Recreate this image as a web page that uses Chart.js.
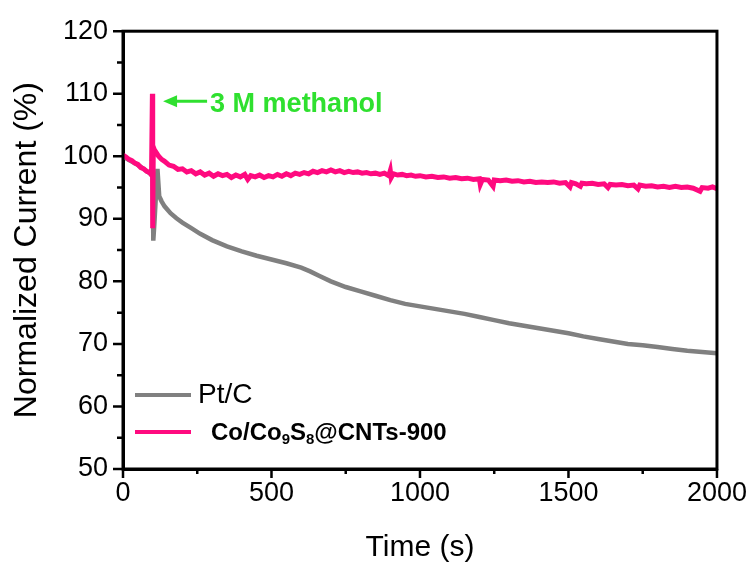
<!DOCTYPE html>
<html>
<head>
<meta charset="utf-8">
<script src="https://cdn.jsdelivr.net/npm/chart.js@4.4.1/dist/chart.umd.min.js"></script>
<style>
  body { margin: 0; background: #fff; }
</style>
</head>
<body>
<canvas id="plot" width="755" height="563"></canvas>
<script>
// chronoamperometry, methanol injected at ~100 s
const ptcTime = [0, 20, 40, 60, 80, 95, 100, 102, 106, 110, 116, 122, 130, 140, 160, 180, 200, 230, 260, 300,
  350, 400, 450, 500, 550, 600, 630, 660, 700, 750, 800, 850, 900, 950, 1000, 1050, 1100, 1150, 1200,
  1250, 1300, 1350, 1400, 1450, 1500, 1550, 1600, 1650, 1700, 1750, 1800, 1850, 1900, 1950, 2000];
const ptcCurrent = [100.0, 99.4, 98.9, 98.3, 97.6, 97.1, 96.8, 86.5, 89.5, 93.0, 98.0, 93.6, 92.8, 92.0, 90.9, 90.1, 89.4, 88.5, 87.6, 86.6,
  85.6, 84.8, 84.1, 83.5, 82.9, 82.2, 81.6, 80.9, 80.0, 79.1, 78.4, 77.7, 77.0, 76.4, 76.0, 75.6, 75.2, 74.8, 74.3,
  73.8, 73.3, 72.9, 72.5, 72.1, 71.7, 71.2, 70.8, 70.4, 70.0, 69.8, 69.5, 69.2, 68.9, 68.7, 68.5];

const cnTime = [0, 10, 20, 30, 40, 50, 60, 70, 80, 90, 96, 99, 100, 102, 106, 112, 120, 130, 140, 155,
  170, 185, 200, 215, 230, 245, 260, 275, 290, 305, 320, 335, 350, 365, 380, 395, 410, 420, 430, 445,
  460, 475, 490, 505, 520, 535, 550, 565, 580, 595, 610, 625, 640, 655, 670, 685, 700, 715, 730, 745,
  760, 775, 790, 805, 820, 835, 850, 865, 880, 895, 900, 903, 910, 925, 940, 955, 970, 985, 1000, 1020,
  1040, 1060, 1080, 1100, 1120, 1140, 1160, 1180, 1200, 1203, 1210, 1230, 1246, 1250, 1270, 1290, 1310, 1330, 1350, 1370,
  1390, 1410, 1430, 1450, 1470, 1490, 1505, 1510, 1525, 1540, 1545, 1560, 1580, 1600, 1620, 1633, 1640, 1660, 1680, 1700,
  1720, 1734, 1740, 1760, 1780, 1800, 1820, 1840, 1860, 1880, 1900, 1920, 1943, 1950, 1970, 1985, 2000];
const cnCurrent = [100.2, 99.9, 99.5, 99.3, 98.9, 98.7, 98.2, 98.0, 97.6, 97.4, 97.0, 110.0, 88.5, 101.5, 101.0, 100.6, 100.0, 99.5, 99.2, 98.6,
  98.4, 97.9, 98.0, 97.5, 97.7, 97.2, 97.5, 97.0, 97.3, 96.8, 97.2, 96.9, 97.1, 96.6, 97.0, 96.7, 97.1, 96.3, 96.9, 96.7,
  97.0, 96.6, 96.9, 96.7, 97.1, 96.8, 97.2, 96.9, 97.3, 97.1, 97.4, 97.2, 97.6, 97.4, 97.7, 97.5, 97.8, 97.5, 97.7, 97.4,
  97.6, 97.4, 97.5, 97.3, 97.4, 97.2, 97.3, 97.1, 97.3, 96.9, 97.7, 96.6, 97.2, 97.0, 97.1, 96.9, 97.0, 96.8, 96.9, 96.7,
  96.8, 96.6, 96.7, 96.5, 96.6, 96.4, 96.5, 96.3, 96.4, 95.5, 96.3, 96.2, 95.2, 96.2, 96.1, 96.2, 96.0, 96.1, 95.9, 96.0,
  95.8, 95.9, 95.8, 95.9, 95.7, 95.8, 95.1, 95.8, 95.6, 95.2, 95.7, 95.6, 95.7, 95.5, 95.6, 95.0, 95.5, 95.4, 95.5, 95.3,
  95.4, 94.8, 95.4, 95.2, 95.3, 95.1, 95.2, 95.0, 95.2, 95.0, 95.1, 94.9, 94.4, 95.0, 94.9, 95.1, 94.8];

const xTickLabels = [0, 500, 1000, 1500, 2000];
const yTickLabels = [50, 60, 70, 80, 90, 100, 110, 120];

const toPoints = (t, v) => t.map((x, i) => ({ x: x, y: v[i] }));

const GRAY = '#808080';
const PINK = '#ff0a7f';
const GREEN = '#2fe02f';
const FONT = 'Arial, "Liberation Sans", sans-serif';

// box frame plus outward major/minor ticks
const frameTicks = {
  id: 'frameTicks',
  afterDraw(chart) {
    const { ctx, chartArea: a, scales: { x, y } } = chart;
    ctx.save();
    ctx.strokeStyle = '#000';
    ctx.lineWidth = 3;
    ctx.strokeRect(a.left, a.top, a.right - a.left, a.bottom - a.top);
    ctx.lineWidth = 2.5;
    ctx.beginPath();
    x.ticks.forEach(t => {
      const px = x.getPixelForValue(t.value);
      const len = xTickLabels.includes(t.value) ? 9 : 5;
      ctx.moveTo(px, a.bottom);
      ctx.lineTo(px, a.bottom + len);
    });
    y.ticks.forEach(t => {
      const py = y.getPixelForValue(t.value);
      const len = yTickLabels.includes(t.value) ? 10 : 6;
      ctx.moveTo(a.left, py);
      ctx.lineTo(a.left - len, py);
    });
    ctx.stroke();
    ctx.restore();
  }
};

// green arrow note and the in-plot legend
const notes = {
  id: 'notes',
  afterDraw(chart) {
    const { ctx, chartArea: a, scales: { x, y } } = chart;
    ctx.save();
    // arrow pointing at the injection spike
    const tipX = x.getPixelForValue(135);
    const tipY = y.getPixelForValue(108.8);
    ctx.strokeStyle = GREEN;
    ctx.fillStyle = GREEN;
    ctx.lineWidth = 3;
    ctx.beginPath();
    ctx.moveTo(tipX + 10, tipY);
    ctx.lineTo(tipX + 44, tipY);
    ctx.stroke();
    ctx.beginPath();
    ctx.moveTo(tipX, tipY);
    ctx.lineTo(tipX + 14, tipY - 6);
    ctx.lineTo(tipX + 14, tipY + 6);
    ctx.closePath();
    ctx.fill();
    ctx.font = 'bold 27px ' + FONT;
    ctx.textBaseline = 'middle';
    ctx.fillText('3 M methanol', tipX + 47, tipY + 3);

    // legend
    const lx = a.left + 12;
    ctx.lineWidth = 4;
    ctx.strokeStyle = GRAY;
    ctx.beginPath();
    ctx.moveTo(lx, 395);
    ctx.lineTo(lx + 56, 395);
    ctx.stroke();
    ctx.strokeStyle = PINK;
    ctx.beginPath();
    ctx.moveTo(lx, 432);
    ctx.lineTo(lx + 56, 432);
    ctx.stroke();

    ctx.fillStyle = '#000';
    ctx.textBaseline = 'alphabetic';
    ctx.font = '28px ' + FONT;
    ctx.fillText('Pt/C', lx + 63, 403);

    // Co/Co9S8@CNTs-900 with subscripts
    const parts = [['Co/Co', false], ['9', true], ['S', false], ['8', true], ['@CNTs-900', false]];
    let tx = lx + 76;
    parts.forEach(([s, sub]) => {
      ctx.font = (sub ? 'bold 15px ' : 'bold 24px ') + FONT;
      ctx.fillText(s, tx, sub ? 444 : 440);
      tx += ctx.measureText(s).width;
    });
    ctx.restore();
  }
};

new Chart(document.getElementById('plot'), {
  type: 'line',
  data: {
    datasets: [
      {
        label: 'Pt/C',
        data: toPoints(ptcTime, ptcCurrent),
        borderColor: GRAY,
        borderWidth: 4.5,
        pointRadius: 0,
        tension: 0,
        order: 2
      },
      {
        label: 'Co/Co9S8@CNTs-900',
        data: toPoints(cnTime, cnCurrent),
        borderColor: PINK,
        borderWidth: 5,
        pointRadius: 0,
        tension: 0,
        order: 1
      }
    ]
  },
  options: {
    responsive: false,
    animation: false,
    layout: { padding: { top: 30, right: 38, left: 0, bottom: 0 } },
    plugins: { legend: { display: false }, tooltip: { enabled: false } },
    scales: {
      x: {
        type: 'linear',
        min: 0,
        max: 2000,
        afterFit: s => { s.height = 94; },
        ticks: {
          stepSize: 250,
          autoSkip: false,
          maxRotation: 0,
          padding: 8,
          color: '#000',
          font: { family: FONT, size: 27 },
          callback: v => xTickLabels.includes(v) ? v : ''
        },
        grid: { display: false, drawTicks: false },
        border: { color: '#000', width: 3 },
        title: {
          display: true,
          text: 'Time (s)',
          color: '#000',
          font: { family: FONT, size: 30, lineHeight: 1.0 },
          padding: { top: 0, bottom: 0 }
        }
      },
      y: {
        min: 50,
        max: 120,
        afterFit: s => { s.width = 123; },
        ticks: {
          stepSize: 5,
          autoSkip: false,
          padding: 15,
          color: '#000',
          font: { family: FONT, size: 27 },
          callback: v => yTickLabels.includes(v) ? v : ''
        },
        grid: { display: false, drawTicks: false },
        border: { color: '#000', width: 3 },
        title: {
          display: true,
          text: 'Normalized Current (%)',
          color: '#000',
          font: { family: FONT, size: 32 },
          padding: { top: 8, bottom: 0 }
        }
      }
    }
  },
  plugins: [frameTicks, notes]
});
</script>
</body>
</html>
